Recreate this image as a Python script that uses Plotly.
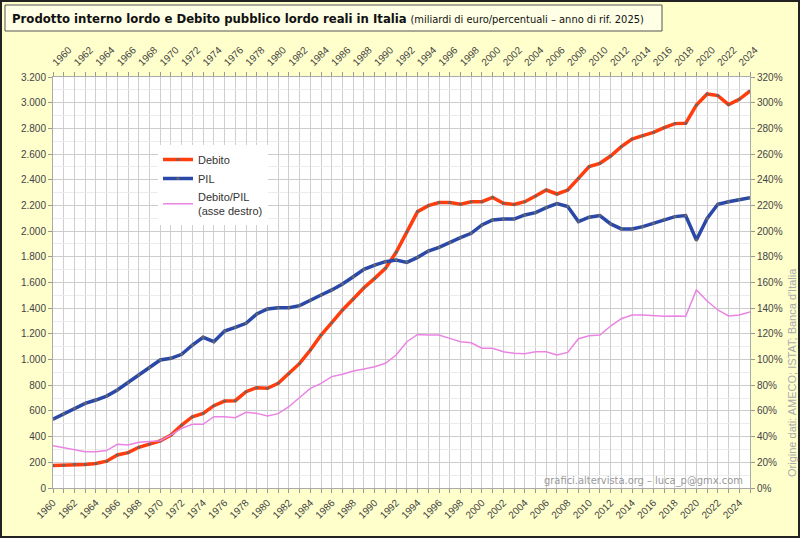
import plotly.graph_objects as go

years = list(range(1960, 2026))
debito = [176, 178, 185, 183, 191, 209, 257, 275, 317, 343,
          366, 413, 490, 555, 581, 641, 677, 680, 750, 781,
          776, 815, 890, 970, 1074, 1191, 1287, 1386, 1471, 1559,
          1632, 1710, 1835, 1996, 2152, 2198, 2222, 2222, 2209, 2229,
          2229, 2263, 2217, 2207, 2229, 2273, 2320, 2289, 2320, 2411,
          2502, 2528, 2585, 2658, 2717, 2743, 2769, 2805, 2837, 2839,
          2982, 3068, 3055, 2985, 3026, 3091]
pil = [535, 576, 620, 659, 685, 716, 763, 820, 880, 937,
       997, 1010, 1041, 1113, 1173, 1139, 1222, 1251, 1282, 1355,
       1394, 1404, 1404, 1420, 1464, 1503, 1542, 1588, 1645, 1702,
       1736, 1762, 1775, 1757, 1796, 1845, 1874, 1913, 1949, 1983,
       2048, 2087, 2094, 2094, 2126, 2144, 2183, 2214, 2191, 2074,
       2108, 2121, 2056, 2017, 2017, 2035, 2061, 2092, 2113, 2121,
       1931, 2099, 2209, 2229, 2247, 2260]
rapporto = [33.0, 31.4, 30.1, 28.3, 28.3, 29.1, 34.0, 33.5, 35.6, 36.1,
            36.8, 41.3, 46.5, 49.6, 49.6, 55.5, 55.5, 54.7, 58.9, 58.1,
            56.1, 57.9, 63.3, 70.5, 77.6, 81.5, 86.7, 88.5, 91.1, 92.6,
            94.4, 97.1, 103.5, 113.9, 119.6, 119.1, 119.1, 116.5, 113.9, 113.1,
            108.8, 108.8, 106.1, 104.9, 104.6, 106.1, 106.1, 103.5, 105.6, 116.2,
            118.6, 119.1, 126.1, 131.8, 134.7, 134.7, 134.2, 133.7, 134.0, 133.7,
            154.2, 145.6, 138.6, 133.9, 134.7, 137.0]

W, H = 800, 538
L, R, T, B = 53, 750, 77, 488
pw, ph = R - L, B - T


def px(x):
    return (x - L) / pw


def py(y):
    return (B - y) / ph


font_main = "Liberation Sans, Arial, sans-serif"
font_narrow = "Liberation Sans Narrow, DejaVu Sans Condensed, Arial Narrow, sans-serif"

fig = go.Figure()
fig.add_trace(go.Scatter(x=years, y=debito, name="Debito", mode="lines+markers",
                         line=dict(color="#ff3d0d", width=3.5),
                         marker=dict(size=3, color="#666666")))
fig.add_trace(go.Scatter(x=years, y=pil, name="PIL", mode="lines+markers",
                         line=dict(color="#2a48a8", width=3.5),
                         marker=dict(size=3, color="#666666")))
fig.add_trace(go.Scatter(x=years, y=rapporto, name="Debito/PIL<br>(asse destro)",
                         mode="lines", yaxis="y2",
                         line=dict(color="#ea84e2", width=1.5)))
fig.add_trace(go.Scatter(x=[1960, 2025], y=[None, None], xaxis="x2",
                         showlegend=False, hoverinfo="skip"))

axis_common = dict(tickfont=dict(family=font_main, size=10, color="#444444"),
                   ticks="outside", ticklen=4, tickcolor="#999999",
                   linecolor="#aaaaaa", showline=True)

fig.update_layout(
    width=W, height=H,
    margin=dict(l=L, r=W - R, t=T, b=H - B),
    paper_bgcolor="#ffffcc", plot_bgcolor="#ffffff",
    separators=",.",
    showlegend=True,
    legend=dict(x=px(158), y=py(145), xanchor="left", yanchor="top",
                bgcolor="#ffffff", font=dict(family=font_main, size=11, color="#333333"),
                tracegroupgap=0, itemwidth=30),
    xaxis=dict(range=[1960, 2025], tick0=1960, dtick=2, tickangle=-45,
               showgrid=True, gridcolor="#cfcfcf", gridwidth=1, zeroline=False,
               minor=dict(dtick=1, showgrid=True, gridcolor="#cfcfcf",
                          ticks="outside", ticklen=4, tickcolor="#999999"),
               **axis_common),
    xaxis2=dict(range=[1960, 2025], tick0=1960, dtick=2, tickangle=-45,
                overlaying="x", side="top", showgrid=False, zeroline=False,
                minor=dict(dtick=1, ticks="outside", ticklen=4, tickcolor="#999999"),
                **axis_common),
    yaxis=dict(range=[0, 3200], dtick=200, tickformat=",d",
               showgrid=True, gridcolor="#cccccc", zeroline=False,
               minor=dict(dtick=100, showgrid=True, gridcolor="#ececec"),
               **axis_common),
    yaxis2=dict(range=[0, 320], dtick=20, ticksuffix="%", overlaying="y",
                side="right", showgrid=False, zeroline=False, **axis_common),
)

shapes = [
    dict(type="rect", xref="paper", yref="paper",
         x0=px(1), x1=px(W - 1), y0=py(H - 1), y1=py(1),
         line=dict(color="#222222", width=2), fillcolor="rgba(0,0,0,0)", layer="above"),
    dict(type="rect", xref="paper", yref="paper",
         x0=px(5), x1=px(662), y0=py(31), y1=py(5),
         line=dict(color="#555555", width=1), fillcolor="#ffffe6", layer="below"),
]
fig.update_layout(shapes=shapes)

fig.add_annotation(xref="paper", yref="paper", x=px(10), y=py(18),
                   xanchor="left", yanchor="middle", showarrow=False,
                   text="<b>Prodotto interno lordo e Debito pubblico lordo reali in Italia</b> "
                        "<span style='font-size:11px'>(miliardi di euro/percentuali – anno di rif. 2025)</span>",
                   font=dict(family=font_narrow, size=13, color="#111111"))
fig.add_annotation(xref="paper", yref="paper", x=px(745), y=py(480),
                   xanchor="right", yanchor="middle", showarrow=False,
                   text="grafici.altervista.org – luca_p@gmx.com",
                   font=dict(family=font_narrow, size=11, color="#999999"))
fig.add_annotation(xref="paper", yref="paper", x=px(792), y=py(373),
                   xanchor="center", yanchor="middle", showarrow=False, textangle=-90,
                   text="Origine dati: AMECO; ISTAT; Banca d'Italia",
                   font=dict(family=font_main, size=11, color="#aaaaaa"))

fig.write_html("out.html")
